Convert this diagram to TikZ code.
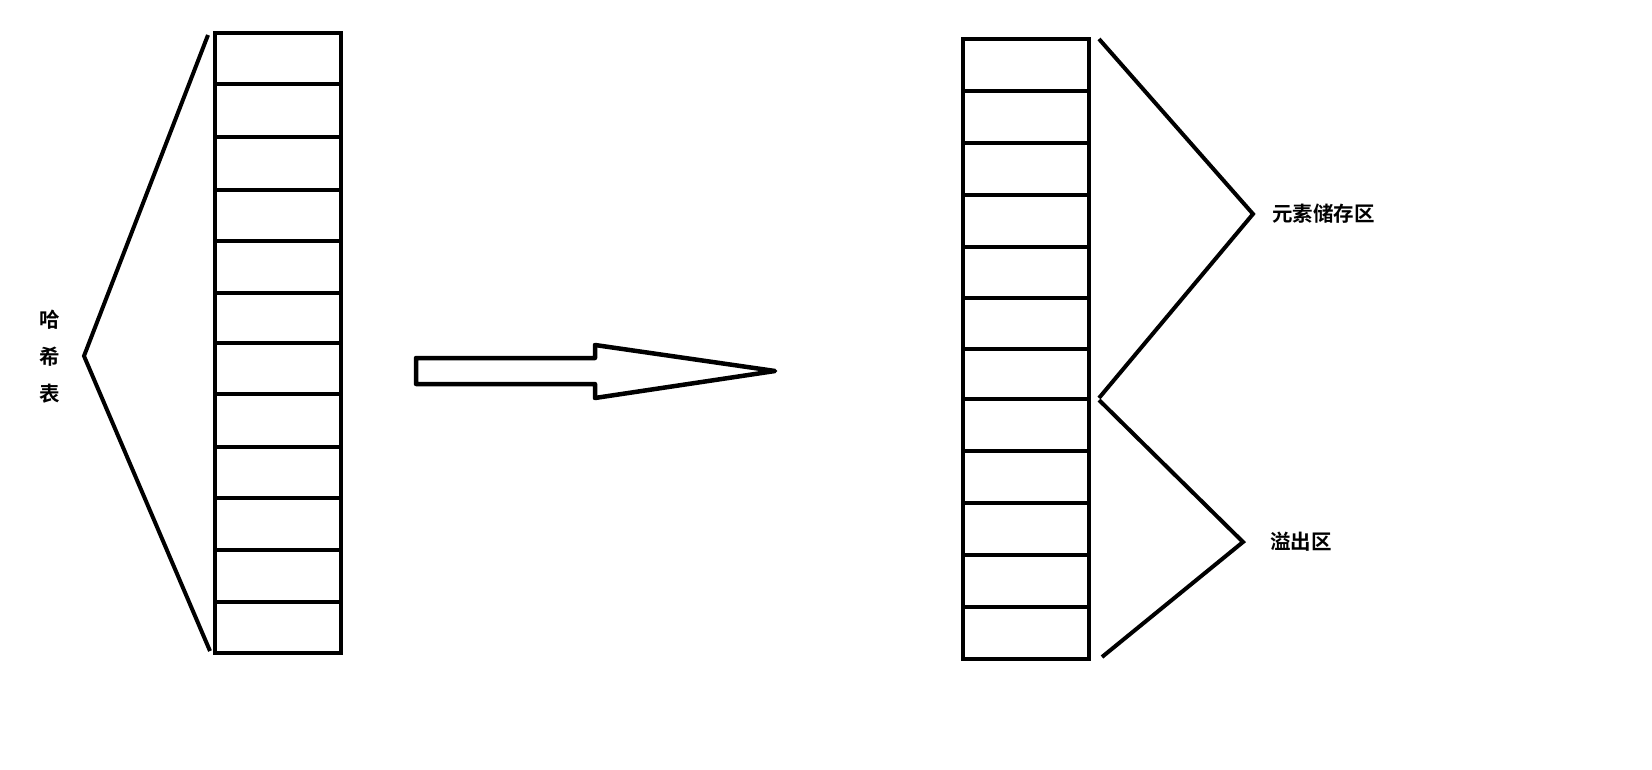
\documentclass[tikz,border=0pt]{standalone}
\usepackage{fontspec}
\newfontfamily\cjk[BoldFont={Noto Sans CJK SC Bold}]{Noto Sans CJK SC}
\usetikzlibrary{positioning}

\begin{document}
\begin{tikzpicture}[x=1pt,y=-1pt,line width=4.5pt]
		\useasboundingbox (0,0) rectangle (1652,770);
		\tikzset{lbl/.style={font=\cjk\bfseries\fontsize{20.5}{37}\selectfont, inner sep=0pt, align=center}}

		% hash table on the left
		\draw (215,33) rectangle (341,653);
		\foreach \y in {84,137,190,241,293,343,394,447,498,550,602}
			\draw (215,\y) -- (341,\y);

		\coordinate (ltop) at (208,35);
		\coordinate (lapex) at (84,356);
		\coordinate (lbot) at (210,651);
		\draw[line width=4] (ltop) -- (lapex) -- (lbot);
		\node[lbl] (hash) at (50,357) {哈\\希\\表};

		% big arrow
		\draw[line join=round] (416,358) -- (595,358) -- (595,345) -- (775,371)
			-- (595,398) -- (595,384) -- (416,384) -- cycle;

		% table on the right
		\draw (963,39) rectangle (1089,659);
		\foreach \y in {91,143,195,247,298,349,399,451,503,555,607}
			\draw (963,\y) -- (1089,\y);

		\coordinate (utop) at (1099,39);
		\coordinate (uapex) at (1253,214);
		\coordinate (umid) at (1099,398);
		\coordinate (lmid) at (1099,400);
		\coordinate (oapex) at (1243,542);
		\coordinate (obot) at (1102,657);
		\draw[line width=4] (utop) -- (uapex) -- (umid);
		\draw[line width=4] (lmid) -- (oapex) -- (obot);

		\node[lbl, right=17pt of uapex] (store) {元素储存区};
		\node[lbl, right=25pt of oapex] (over) {溢出区};
	\end{tikzpicture}
\end{document}
